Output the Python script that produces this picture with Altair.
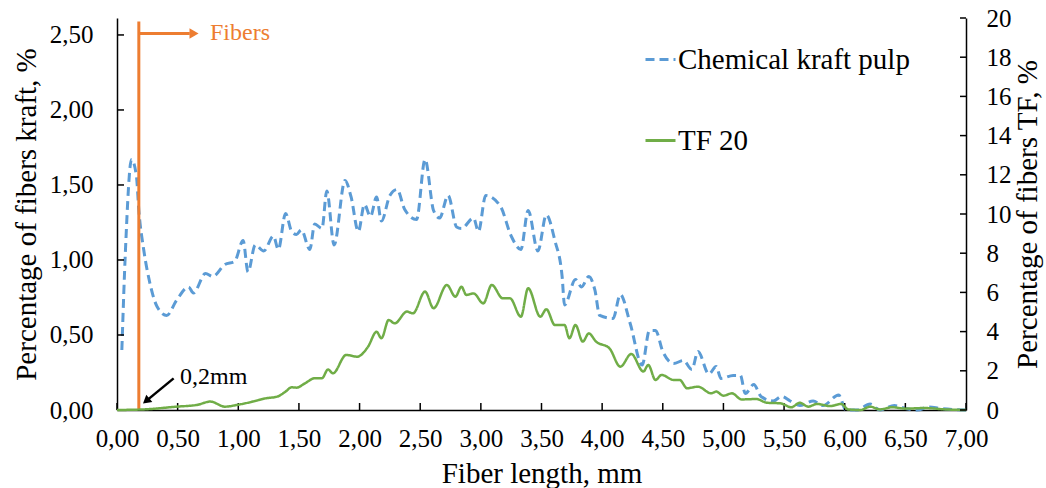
import altair as alt
import pandas as pd

FONT = "Liberation Serif"
BLUE = "#5B9BD5"
GREEN = "#70AD47"
ORANGE = "#ED7D31"

# Chemical kraft pulp (left axis, %)
kraft_x = [0.04, 0.07, 0.12, 0.16, 0.18, 0.22, 0.27, 0.33, 0.41, 0.49, 0.59, 0.63, 0.73, 0.79, 0.89,
           0.97, 1.04, 1.08, 1.14, 1.21, 1.29, 1.33, 1.39, 1.44, 1.48, 1.52, 1.59, 1.63, 1.69, 1.73,
           1.79, 1.88, 1.93, 1.99, 2.04, 2.09, 2.14, 2.18, 2.25, 2.31, 2.37, 2.47, 2.54, 2.61, 2.66,
           2.73, 2.80, 2.84, 2.94, 2.98, 3.04, 3.16, 3.25, 3.33, 3.39, 3.47, 3.54, 3.61, 3.67, 3.69,
           3.78, 3.83, 3.89, 3.94, 3.98, 4.09, 4.15, 4.23, 4.33, 4.39, 4.44, 4.50, 4.59, 4.67, 4.74,
           4.79, 4.88, 4.94, 4.98, 5.08, 5.14, 5.18, 5.25, 5.31, 5.41, 5.48, 5.55, 5.63, 5.74, 5.82,
           5.95, 6.01, 6.10, 6.21, 6.29, 6.41, 6.50, 6.60, 6.69, 6.79, 7.00]
kraft_y = [0.40, 1.07, 1.67, 1.56, 1.33, 1.07, 0.85, 0.69, 0.63, 0.73, 0.82, 0.78, 0.91, 0.89, 0.97,
           0.99, 1.13, 0.92, 1.10, 1.06, 1.16, 1.07, 1.31, 1.19, 1.17, 1.20, 1.07, 1.24, 1.21, 1.46,
           1.10, 1.53, 1.42, 1.19, 1.37, 1.29, 1.42, 1.26, 1.43, 1.47, 1.34, 1.27, 1.67, 1.33, 1.28,
           1.43, 1.22, 1.21, 1.28, 1.19, 1.43, 1.36, 1.16, 1.07, 1.33, 1.06, 1.30, 1.13, 0.89, 0.70,
           0.87, 0.82, 0.89, 0.80, 0.63, 0.61, 0.77, 0.58, 0.30, 0.53, 0.53, 0.39, 0.31, 0.33, 0.27,
           0.39, 0.24, 0.29, 0.21, 0.23, 0.23, 0.11, 0.17, 0.09, 0.06, 0.09, 0.06, 0.03, 0.06, 0.03,
           0.10, 0.00, 0.00, 0.04, 0.00, 0.03, 0.01, 0.00, 0.02, 0.01, 0.00]

# TF 20 (right axis, %)
tf_x = [0.00, 0.22, 0.49, 0.66, 0.77, 0.89, 0.99, 1.12, 1.23, 1.32, 1.39, 1.44, 1.48, 1.55, 1.63,
        1.69, 1.74, 1.78, 1.89, 1.98, 2.07, 2.14, 2.18, 2.24, 2.29, 2.39, 2.44, 2.54, 2.61, 2.72,
        2.79, 2.84, 2.88, 2.94, 3.02, 3.09, 3.18, 3.24, 3.33, 3.39, 3.49, 3.54, 3.61, 3.69, 3.73,
        3.78, 3.84, 3.89, 3.95, 4.06, 4.15, 4.24, 4.34, 4.38, 4.44, 4.49, 4.59, 4.64, 4.70, 4.79,
        4.90, 4.94, 5.00, 5.07, 5.15, 5.27, 5.36, 5.47, 5.56, 5.63, 5.70, 5.77, 5.88, 5.97, 6.03,
        6.13, 6.21, 6.29, 6.39, 6.50, 6.66, 6.83, 7.00]
tf_y = [0.00, 0.03, 0.17, 0.26, 0.43, 0.17, 0.26, 0.43, 0.60, 0.68, 0.94, 1.16, 1.14, 1.36, 1.62,
        1.62, 2.07, 1.87, 2.81, 2.72, 3.23, 3.99, 3.66, 4.59, 4.42, 5.02, 4.93, 6.04, 5.19, 6.38,
        5.78, 6.29, 5.87, 5.95, 5.44, 6.38, 5.70, 5.70, 4.76, 6.21, 4.76, 5.14, 4.34, 4.34, 3.66,
        4.34, 3.49, 3.91, 3.49, 3.15, 2.21, 2.86, 1.96, 2.30, 1.53, 1.79, 1.53, 1.53, 1.11, 1.19,
        0.85, 0.94, 0.73, 0.85, 0.54, 0.56, 0.37, 0.34, 0.14, 0.37, 0.17, 0.31, 0.20, 0.31, 0.03,
        0.00, 0.17, 0.03, 0.14, 0.07, 0.10, 0.03, 0.00]

series_names = ["Chemical kraft pulp", "TF 20"]
x_tick_values = [0.0, 0.5, 1.0, 1.5, 2.0, 2.5, 3.0, 3.5, 4.0, 4.5, 5.0, 5.5, 6.0, 6.5, 7.0]
left_tick_values = [0.0, 0.5, 1.0, 1.5, 2.0, 2.5]
right_tick_values = [0, 2, 4, 6, 8, 10, 12, 14, 16, 18, 20]

# annotation anchors (data units)
fibers_line_x = 0.18
fibers_line_top = 2.59
fibers_arrow_y = 2.51
fibers_arrow_end = 0.60
fibers_head_x = 0.635
fibers_text_x = 0.767
mm_arrow = {"x": 0.467, "y": 0.211, "x2": 0.249, "y2": 0.066}
mm_head = {"x": 0.249, "y": 0.066}
mm_text = {"x": 0.52, "y": 0.22}

W, H = 849, 392

kraft_df = pd.DataFrame({"x": kraft_x, "y": kraft_y, "series": series_names[0]})
tf_df = pd.DataFrame({"x": tf_x, "y": tf_y, "series": series_names[1]})

x_scale = alt.Scale(domain=[0, 7], nice=False, zero=False)
yl_scale = alt.Scale(domain=[0, 2.613], nice=False)
yr_scale = alt.Scale(domain=[0, 20], nice=False)

legend = alt.Legend(
    title=None, orient="none", legendX=527, legendY=25, direction="vertical",
    symbolType="stroke", symbolSize=900, symbolStrokeWidth=3, labelLimit=500,
    labelFont=FONT, labelFontSize=29, labelColor="black", rowPadding=49, labelOffset=1,
)
color = alt.Color("series:N", scale=alt.Scale(domain=series_names, range=[BLUE, GREEN]), legend=legend)
dash = alt.StrokeDash("series:N", scale=alt.Scale(domain=series_names, range=[[9, 5], [1, 0]]), legend=legend)

x_axis = alt.Axis(
    values=x_tick_values, labelExpr="replace(format(datum.value, '.2f'), '.', ',')",
    title="Fiber length, mm", ticks=False, labelFlush=False, labelOverlap=False,
    labelPadding=16, titlePadding=8,
)
yl_axis = alt.Axis(
    orient="left", values=left_tick_values,
    labelExpr="replace(format(datum.value, '.2f'), '.', ',')",
    title="Percentage of fibers kraft, %", ticks=False, labelPadding=24, titlePadding=8)
yr_axis = alt.Axis(
    orient="right", values=right_tick_values, format="d",
    title="Percentage of fibers TF, %", ticks=False, labelPadding=20,
    titleAngle=270, titleBaseline="top", titlePadding=2)


def X(field="x:Q"):
    return alt.X(field, scale=x_scale, axis=x_axis)


def YL(field="y:Q"):
    return alt.Y(field, scale=yl_scale, axis=yl_axis)


def YR(field="y:Q"):
    return alt.Y(field, scale=yr_scale, axis=yr_axis)


blue_line = alt.Chart(kraft_df).mark_line(strokeWidth=3, interpolate="monotone").encode(
    x=X(), y=YL(), color=color, strokeDash=dash,
)
green_line = alt.Chart(tf_df).mark_line(strokeWidth=2.5, interpolate="monotone").encode(
    x=X(), y=YR(), color=color, strokeDash=dash,
)

# inward tick marks
xt = alt.Chart(pd.DataFrame({"v": x_tick_values})).mark_rule(color="black", strokeWidth=1.5).encode(
    x=X("v:Q"), y=alt.value(H), y2=alt.value(H - 7))
lt = alt.Chart(pd.DataFrame({"v": left_tick_values})).mark_rule(color="black", strokeWidth=1.5).encode(
    y=YL("v:Q"), x=alt.value(0), x2=alt.value(7))
rt = alt.Chart(pd.DataFrame({"v": right_tick_values})).mark_rule(color="black", strokeWidth=1.5).encode(
    y=YR("v:Q"), x=alt.value(W), x2=alt.value(W - 6))

# "Fibers" annotation
fib_v = alt.Chart(pd.DataFrame({"x": [fibers_line_x], "y": [0.0], "y2": [fibers_line_top]})).mark_rule(
    color=ORANGE, strokeWidth=3).encode(x=X(), y=YL(), y2="y2:Q")
fib_h = alt.Chart(pd.DataFrame({"x": [fibers_line_x], "x2": [fibers_arrow_end], "y": [fibers_arrow_y]})).mark_rule(
    color=ORANGE, strokeWidth=3).encode(x=X(), x2="x2:Q", y=YL())
fib_head = alt.Chart(pd.DataFrame({"x": [fibers_head_x], "y": [fibers_arrow_y]})).mark_point(
    shape="triangle-right", filled=True, size=110, color=ORANGE, opacity=1).encode(x=X(), y=YL())
fib_text = alt.Chart(pd.DataFrame({"x": [fibers_text_x], "y": [fibers_arrow_y], "t": ["Fibers"]})).mark_text(
    align="left", baseline="middle", font=FONT, fontSize=24, color=ORANGE).encode(x=X(), y=YL(), text="t:N")

# "0,2mm" annotation
mm_line = alt.Chart(pd.DataFrame([mm_arrow])).mark_rule(color="black", strokeWidth=2.5).encode(
    x=X(), x2="x2:Q", y=YL(), y2="y2:Q")
mm_headm = alt.Chart(pd.DataFrame([mm_head])).mark_point(
    shape="triangle", filled=True, size=90, color="black", opacity=1, angle=230).encode(x=X(), y=YL())
mm_txt = alt.Chart(pd.DataFrame([{**mm_text, "t": "0,2mm"}])).mark_text(
    align="left", baseline="middle", font=FONT, fontSize=24, color="black").encode(x=X(), y=YL(), text="t:N")

left_group = alt.layer(blue_line, xt, lt, fib_v, fib_h, fib_head, fib_text, mm_line, mm_headm, mm_txt)
right_group = alt.layer(green_line, rt)

chart = alt.layer(left_group, right_group).resolve_scale(
    y="independent"
).properties(
    width=W, height=H,
    autosize=alt.AutoSizeParams(type="none"),
    padding={"left": 117, "top": 18, "right": 80, "bottom": 78},
    background="white",
).configure_view(
    stroke=None
).configure_axis(
    grid=False, domainColor="black", domainWidth=1.5,
    labelFont=FONT, labelFontSize=25, labelColor="black",
    titleFont=FONT, titleFontSize=29, titleFontWeight="normal", titleColor="black",
)

chart.save("out.html", embed_options={"renderer": "svg", "actions": False})
